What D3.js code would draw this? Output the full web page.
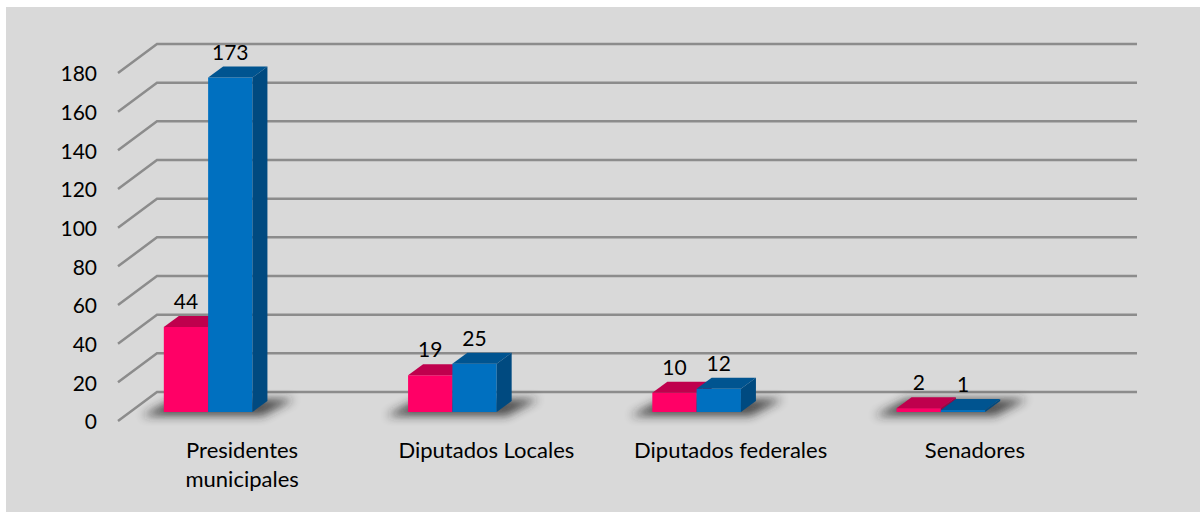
<!DOCTYPE html>
<html>
<head>
<meta charset="utf-8">
<script src="https://cdn.jsdelivr.net/npm/d3@7"></script>
<style>
  html, body { margin: 0; padding: 0; background: #fff; }
  svg { display: block; }
</style>
</head>
<body>
<div id="chart"></div>
<script>
const categories = ["Presidentes municipales", "Diputados Locales", "Diputados federales", "Senadores"];
const categoryLines = [["Presidentes", "municipales"], ["Diputados Locales"], ["Diputados federales"], ["Senadores"]];
const pinkValues = [44, 19, 10, 2];
const blueValues = [173, 25, 12, 1];
const yTicks = [0, 20, 40, 60, 80, 100, 120, 140, 160, 180];

const width = 1200, height = 512;
const fontFamily = "Lato, Carlito, sans-serif";

// fake 3d: the walls sit back from the axis, the bars sit in between
const wallDx = 39, wallDy = 29;
const barBaseDy = 9, barDx = 15, barDy = 11;
const barWidth = 44.3;

const x = d3.scaleBand(categories, [120, 1097]);
const y = d3.scaleLinear([0, 180], [421, 73]);
const plotLeft = 118, plotRight = 1137;
const barCenter = (c) => x(c) + x.bandwidth() / 2 - 34;

const svg = d3
  .select("#chart")
  .append("svg")
  .attr("width", width)
  .attr("height", height)
  .attr("font-family", fontFamily);

svg
  .append("rect")
  .attr("x", 6)
  .attr("y", 7)
  .attr("width", width - 6)
  .attr("height", height - 7)
  .attr("fill", "#d9d9d9");

const defs = svg.append("defs");
defs
  .append("filter")
  .attr("id", "blur")
  .attr("x", "-30%")
  .attr("y", "-100%")
  .attr("width", "160%")
  .attr("height", "300%")
  .append("feGaussianBlur")
  .attr("stdDeviation", 5);

// gridlines with their slanted part on the left wall
svg
  .append("g")
  .selectAll("path")
  .data(yTicks)
  .join("path")
  .attr("d", (d) => {
    const py = y(d);
    return `M${plotLeft},${py}L${plotLeft + wallDx},${py - wallDy}L${plotRight},${py - wallDy}`;
  })
  .attr("fill", "none")
  .attr("stroke", "#8c8c8c")
  .attr("stroke-width", 2.5);

// tick labels
const yAxis = svg
  .append("g")
  .attr("transform", "translate(97,1)")
  .call(d3.axisLeft(y).tickValues(yTicks).tickSize(0).tickPadding(0));
yAxis.select(".domain").remove();
yAxis
  .selectAll("text")
  .attr("font-family", fontFamily)
  .attr("font-size", 21)
  .attr("fill", "#000");

const rows = categories.map((c, i) => ({
  category: c,
  lines: categoryLines[i],
  pink: pinkValues[i],
  blue: blueValues[i],
}));

// floor shadows
svg
  .append("g")
  .selectAll("path")
  .data(rows)
  .join("path")
  .attr("d", (d) => {
    const l = barCenter(d.category) - barWidth;
    const r = barCenter(d.category) + barWidth;
    const b = y(0) - barBaseDy;
    return `M${l - 22},${b + 4}L${r + 10},${b + 4}L${r + 42},${b - 13}L${l + 10},${b - 13}Z`;
  })
  .attr("fill", "#222")
  .attr("opacity", 0.75)
  .attr("filter", "url(#blur)");

function drawBar(g, left, value, colors) {
  const right = left + barWidth;
  const top = y(value) - barBaseDy;
  const base = y(0) - barBaseDy;
  g.append("rect")
    .attr("x", left)
    .attr("y", top)
    .attr("width", barWidth)
    .attr("height", base - top)
    .attr("fill", colors.front);
  g.append("path")
    .attr("d", `M${left},${top}L${left + barDx},${top - barDy}L${right + barDx},${top - barDy}L${right},${top}Z`)
    .attr("fill", colors.top);
  g.append("path")
    .attr("d", `M${right},${top}L${right + barDx},${top - barDy}L${right + barDx},${base - barDy}L${right},${base}Z`)
    .attr("fill", colors.side);
}

const pinkColors = { front: "#ff0066", top: "#bf004d", side: "#a00040" };
const blueColors = { front: "#0070c0", top: "#005490", side: "#004a80" };

const groups = svg.append("g").selectAll("g").data(rows).join("g");
groups.each(function (d) {
  const g = d3.select(this);
  drawBar(g, barCenter(d.category) - barWidth, d.pink, pinkColors);
  drawBar(g, barCenter(d.category), d.blue, blueColors);
});

// value labels
const labelAttrs = (sel) =>
  sel.attr("text-anchor", "middle").attr("font-size", 21).attr("fill", "#000");

groups
  .append("text")
  .call(labelAttrs)
  .attr("x", (d) => barCenter(d.category) - barWidth / 2)
  .attr("y", (d) => y(d.pink) - barBaseDy - barDy - 7)
  .text((d) => d.pink);

groups
  .append("text")
  .call(labelAttrs)
  .attr("x", (d) => barCenter(d.category) + barWidth / 2)
  .attr("y", (d) => y(d.blue) - barBaseDy - barDy - 7)
  .text((d) => d.blue);

// category labels
svg
  .append("g")
  .selectAll("text")
  .data(rows)
  .join("text")
  .attr("text-anchor", "middle")
  .attr("font-size", 22)
  .attr("fill", "#000")
  .selectAll("tspan")
  .data((d) => d.lines.map((line, i) => ({ line, i, category: d.category })))
  .join("tspan")
  .attr("x", (d) => x(d.category) + x.bandwidth() / 2)
  .attr("y", (d) => 458 + d.i * 29)
  .text((d) => d.line);
</script>
</body>
</html>
